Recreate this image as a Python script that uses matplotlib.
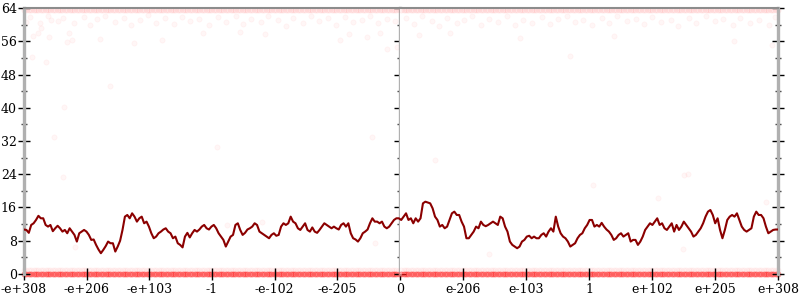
import numpy as np
import matplotlib.pyplot as plt

mean_a = [10.7, 10.6, 9.9, 11.8, 12.2, 13.0, 14.0, 13.4, 13.4, 11.8,
          11.4, 11.8, 10.3, 11.0, 11.6, 11.0, 10.2, 10.6, 9.8, 11.0,
          10.2, 9.4, 7.8, 9.8, 10.2, 10.6, 10.2, 9.4, 8.2, 8.3,
          7.0, 5.9, 5.0, 5.8, 6.7, 7.8, 7.4, 7.4, 5.4, 6.6,
          8.0, 10.6, 13.8, 14.2, 13.4, 14.6, 13.8, 12.6, 13.4, 13.8,
          12.2, 12.6, 11.4, 9.8, 8.6, 9.0, 9.8, 10.2, 10.7, 11.0,
          10.2, 9.8, 8.6, 9.0, 7.4, 7.0, 6.4, 9.0, 9.9, 8.8,
          9.8, 10.6, 10.2, 10.7, 11.4, 11.8, 11.0, 10.7, 11.4, 11.8, 11.0]
mean_b = [9.8, 9.0, 8.2, 6.6, 7.8, 9.0, 9.4, 11.8, 12.2, 10.6,
          9.4, 9.9, 10.7, 11.0, 11.4, 12.2, 11.8, 10.2, 9.8, 9.4,
          9.0, 8.6, 9.4, 9.8, 9.2, 9.4, 11.4, 12.2, 11.8, 12.2,
          13.8, 12.6, 12.2, 11.0, 10.6, 11.4, 12.2, 10.6, 10.2, 11.2,
          10.2, 9.9, 10.6, 11.4, 12.2, 11.8, 11.4, 11.0, 11.4, 11.0,
          10.7, 11.8, 12.2, 11.4, 12.2, 9.8, 8.6, 8.3, 7.8, 8.6,
          9.8, 10.2, 10.7, 12.2, 13.4, 12.6, 12.6, 12.2, 12.6, 11.4,
          11.0, 11.4, 12.2, 13.0, 13.4]
mean_c = [13.4, 13.0, 13.8, 14.6, 13.0, 13.4, 12.2, 13.4, 12.6, 13.4,
          17.0, 17.4, 17.2, 17.0, 15.8, 13.8, 13.0, 11.4, 11.8, 11.0,
          11.4, 13.0, 14.6, 15.0, 14.2, 14.2, 12.6, 11.4, 8.6, 8.6,
          9.4, 10.2, 11.4, 11.0, 12.6, 11.8, 11.5, 11.8, 12.2, 12.6,
          12.2, 11.8, 13.8, 13.4, 11.4, 10.2, 7.8, 7.0, 6.6, 6.2,
          6.6, 7.8, 8.2, 9.0, 9.2, 8.6, 9.0, 8.6, 8.6, 9.4,
          9.8, 9.0, 10.2, 11.0, 10.2, 13.8, 11.4, 9.8, 9.0, 8.6,
          7.8, 6.6, 7.0, 7.4, 8.6, 9.4, 9.8, 11.0, 11.8, 13.0]
mean_d = [13.0, 11.4, 11.8, 11.4, 12.3, 11.4, 10.7, 10.2, 9.4, 8.2,
          8.6, 9.4, 9.8, 9.0, 9.4, 9.8, 7.8, 8.2, 8.2, 7.0,
          7.8, 9.0, 10.6, 11.4, 12.2, 11.8, 12.6, 13.4, 11.8, 12.2,
          11.0, 10.6, 11.4, 12.2, 10.2, 11.8, 10.6, 11.4, 12.6, 11.8,
          11.0, 10.2, 9.0, 9.4, 10.2, 11.0, 12.2, 13.8, 15.0, 15.4,
          14.2, 12.2, 13.4, 10.6, 8.6, 10.6, 13.0, 13.8, 14.2, 13.8,
          14.6, 13.0, 11.4, 10.6, 10.2, 10.6, 11.0, 13.8, 15.0, 14.2,
          14.2, 13.4, 11.4, 9.8, 10.2, 10.6, 10.7, 10.7]

# sparse samples away from the dense rows
pts_x = [-5.97, -5.86, -5.78, -5.73, -5.60, -5.57, -5.88, -5.65, -5.31, -5.23,
         -5.28, -5.52, -5.36, -4.62, -4.78, -4.25, -3.79, -3.14, -2.92, -0.45,
         -0.53, -0.21, -0.05, -0.82, -0.96, -2.15, -2.56, -0.32,
         -5.37, -5.19, -2.20, -2.76, -0.40,
         -5.9, -5.75, -5.62, -5.45, -5.38, -5.2, -5.05, -4.95, -4.83, -4.7,
         -4.55, -4.4, -4.3, -4.15, -4.02, -3.9, -3.75, -3.6, -3.48, -3.35,
         -3.2, -3.05, -2.9, -2.78, -2.62, -2.5, -2.38, -2.22, -2.1, -1.95,
         -1.82, -1.7, -1.55, -1.42, -1.3, -1.15, -1.02, -0.88, -0.75, -0.6,
         -0.48, -0.35, -0.2, -0.08,
         0.1, 0.22, 0.35, 0.5, 0.62, 0.75, 0.9, 1.02, 1.15, 1.28,
         1.42, 1.55, 1.7, 1.82, 1.95, 2.1, 2.25, 2.38, 2.5, 2.65,
         2.78, 2.9, 3.05, 3.2, 3.32, 3.45, 3.6, 3.75, 3.88, 4.0,
         4.15, 4.3, 4.42, 4.58, 4.7, 4.85, 5.0, 5.12, 5.28, 5.4,
         5.55, 5.7, 5.85, 5.95,
         0.56, 3.06, 4.51, 4.57, 4.09, 4.50, 1.41, 5.81,
         0.3, 1.9, 3.4, 5.3, 5.9, 2.7, 0.8]
pts_y = [60.7, 57.3, 57.9, 59.1, 57.0, 61.1, 52.3, 51.1, 55.9, 56.3,
         57.9, 33.0, 40.1, 45.2, 56.5, 55.7, 56.2, 58.1, 30.6, 33.0,
         57.0, 54.1, 54.7, 57.7, 56.3, 57.7, 58.3, 57.9,
         23.4, 6.4, 12.6, 11.8, 7.4,
         61.8, 60.3, 62.1, 60.9, 61.6, 60.4, 61.9, 60.0, 61.3, 62.0,
         60.6, 61.7, 59.8, 61.0, 62.2, 60.5, 61.5, 60.1, 61.9, 60.8,
         61.4, 59.9, 61.8, 60.7, 62.0, 60.2, 61.3, 60.6, 62.1, 61.0,
         59.7, 61.6, 60.4, 62.0, 60.9, 61.5, 60.0, 61.8, 60.6, 61.2,
         62.1, 60.3, 61.4, 60.8,
         61.5, 60.2, 62.0, 60.9, 59.6, 61.7, 60.4, 61.2, 62.1, 60.0,
         61.4, 60.7, 62.0, 59.9, 61.1, 60.5, 61.8, 60.2, 61.3, 62.1,
         60.6, 61.0, 59.8, 61.6, 60.4, 62.0, 60.9, 61.4, 60.1, 61.9,
         60.7, 61.2, 59.7, 61.6, 60.3, 62.0, 60.8, 61.4, 59.9, 61.7,
         60.5, 61.1, 60.0, 61.8,
         27.4, 21.4, 23.8, 24.1, 18.2, 5.9, 4.8, 17.4,
         57.5, 56.8, 57.2, 56.0, 55.0, 52.5, 58.0]

# values hit at every sample position (dense rows)
row_vals = [0, 1, 63.6]
row_alpha = [0.35, 0.035, 0.06]

xtick_labels = ["-e+308", "-e+206", "-e+103", "-1", "-e-102", "-e-205", "0",
                "e-206", "e-103", "1", "e+102", "e+205", "e+308"]

LINE = "#8b0000"
DOT = "#ff1a1a"
SPINE = "#b0b0b0"

plt.rcParams["font.family"] = "DejaVu Serif"
plt.rcParams["font.size"] = 9

mean = np.array(mean_a + mean_b + mean_c + mean_d)
xs = np.linspace(-6, 6, len(mean))
px, py = np.array(pts_x), np.array(pts_y)

fig = plt.figure(figsize=(8, 3), dpi=100)
axl = fig.add_axes([0.03, 0.0867, 0.47, 0.8866])
axr = fig.add_axes([0.5, 0.0867, 0.4725, 0.8866], sharey=axl)

for ax, lo, hi in [(axl, -6, 0), (axr, 0, 6)]:
    side = (xs >= lo) & (xs <= hi)
    for v, a in zip(row_vals, row_alpha):
        ax.scatter(xs[side], np.full(side.sum(), v), s=14, color=DOT,
                   alpha=a, lw=0.6, clip_on=False, zorder=1)
    ps = (px >= lo) & (px <= hi)
    ax.scatter(px[ps], py[ps], s=14, color=DOT, alpha=0.035, lw=0.6, zorder=1)
    ax.plot(xs, mean, color=LINE, lw=1.5, zorder=3)

    ax.set_xlim(lo, hi)
    ax.set_ylim(0, 64)
    ax.set_yticks(range(0, 65, 8))
    ax.set_yticks(range(4, 64, 8), minor=True)
    ax.spines["bottom"].set_visible(False)
    ax.spines["top"].set_color("#8c8c8c")
    ax.spines["top"].set_linewidth(1.5)
    for s in ("left", "right"):
        ax.spines[s].set_color(SPINE)
        ax.spines[s].set_linewidth(2.4)
    ax.tick_params(which="major", direction="inout", length=8.5, width=1,
                   color="black", pad=1, left=True, right=True)
    ax.tick_params(which="minor", direction="inout", length=4, width=1,
                   color="#444444", left=True, right=True)
    ax.tick_params(axis="x", pad=2)

axl.set_xticks(range(-6, 1))
axl.set_xticklabels(xtick_labels[:7])
axr.set_xticks(range(1, 7))
axr.set_xticklabels(xtick_labels[7:])
axr.spines["left"].set_visible(False)
axr.tick_params(axis="y", which="both", labelleft=False, left=False)

fig.savefig("out.png", dpi=100)
